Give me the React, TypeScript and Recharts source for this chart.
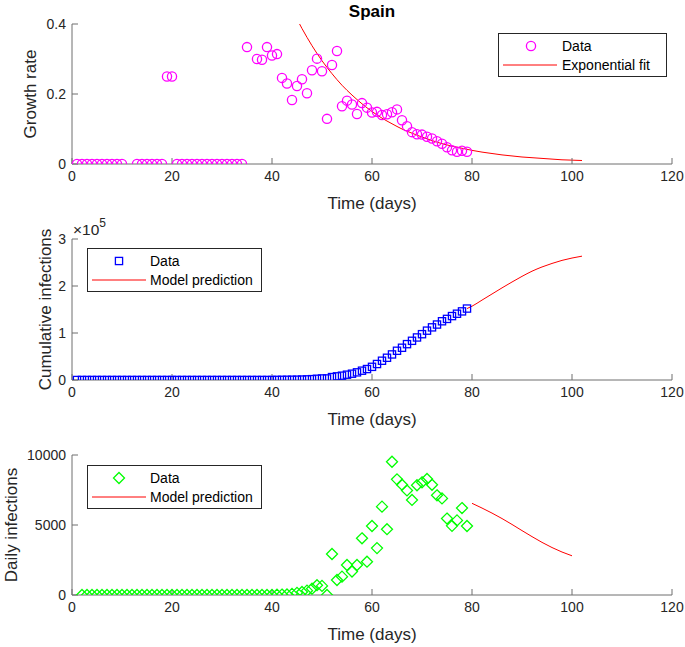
import React from 'react';
import { ComposedChart, Scatter, Line, XAxis, YAxis, Legend } from 'recharts';

const DAY_TICKS = [0, 20, 40, 60, 80, 100, 120];

// Growth rate (days 11, 12 and 36 have no value)
const rateDays = [
  1, 2, 3, 4, 5, 6, 7, 8, 9, 10,
  13, 14, 15, 16, 17, 18, 19, 20, 21, 22, 23, 24, 25, 26, 27, 28, 29, 30, 31, 32, 33, 34, 35,
  37, 38, 39, 40, 41, 42, 43, 44, 45, 46, 47, 48, 49, 50, 51, 52, 53, 54, 55, 56, 57, 58,
  59, 60, 61, 62, 63, 64, 65, 66, 67, 68, 69, 70, 71, 72, 73, 74, 75, 76, 77, 78, 79,
];
const rateValues = [
  0, 0, 0, 0, 0, 0, 0, 0, 0, 0,
  0, 0, 0, 0, 0, 0, 0.25, 0.25, 0, 0, 0, 0, 0, 0, 0, 0, 0, 0, 0, 0, 0, 0, 0.334,
  0.3, 0.298, 0.334, 0.31, 0.314, 0.246, 0.23, 0.183, 0.223, 0.242, 0.202, 0.268, 0.301, 0.265, 0.129, 0.283, 0.323, 0.165, 0.181, 0.17, 0.143, 0.174,
  0.161, 0.147, 0.149, 0.14, 0.142, 0.148, 0.156, 0.125, 0.108, 0.091, 0.085, 0.084, 0.078, 0.073, 0.065, 0.058, 0.048, 0.039, 0.035, 0.038, 0.035,
];
const rateFitDays = [44, 46, 48, 50, 52, 54, 56, 58, 60, 62, 64, 66, 68, 70, 72, 74, 76, 78, 80, 82, 84, 86, 88, 90, 92, 94, 96, 98, 100, 102];
const rateFitValues = [
  0.442, 0.387, 0.338, 0.295, 0.258, 0.225, 0.197, 0.172, 0.15, 0.131, 0.115, 0.1, 0.088, 0.077, 0.067,
  0.058, 0.051, 0.045, 0.039, 0.034, 0.03, 0.026, 0.023, 0.02, 0.018, 0.016, 0.014, 0.012, 0.011, 0.01,
];

// Cumulative infections
const cumDays = [
  1, 2, 3, 4, 5, 6, 7, 8, 9, 10, 11, 12, 13, 14, 15, 16, 17, 18, 19, 20,
  21, 22, 23, 24, 25, 26, 27, 28, 29, 30, 31, 32, 33, 34, 35, 36, 37, 38, 39, 40,
  41, 42, 43, 44, 45, 46, 47, 48, 49, 50, 51, 52, 53, 54, 55, 56, 57, 58, 59, 60,
  61, 62, 63, 64, 65, 66, 67, 68, 69, 70, 71, 72, 73, 74, 75, 76, 77, 78, 79,
];
const cumValues = [
  0, 0, 0, 0, 0, 0, 0, 0, 0, 0, 0, 0, 0, 0, 0, 0, 0, 0, 0, 0,
  0, 0, 0, 0, 0, 0, 0, 0, 0, 0, 0, 0, 0, 0, 0, 0, 0, 0, 0, 0,
  200, 300, 400, 500, 600, 900, 1300, 1800, 2600, 3300, 3300, 6200, 7800, 9200, 11300, 13400, 16300, 19800, 23300, 28000,
  34000, 41000, 47300, 54400, 62200, 68600, 76300, 83400, 90500, 97500, 105000, 112000, 118000, 125000, 130000, 136000, 141000, 146000, 152000,
];
const cumModelDays = [79, 80, 82, 84, 86, 88, 90, 92, 94, 96, 98, 100, 102];
const cumModelValues = [152000, 157000, 170000, 183000, 196000, 208500, 220500, 231500, 240500, 248000, 254500, 259500, 263500];

// Daily infections
const dailyDays = [
  2, 3, 4, 5, 6, 7, 8, 9, 10, 11, 12, 13, 14, 15, 16, 17, 18, 19, 20,
  21, 22, 23, 24, 25, 26, 27, 28, 29, 30, 31, 32, 33, 34, 35, 36, 37, 38, 39, 40,
  41, 42, 43, 44, 45, 46, 47, 48, 49, 50, 51, 52, 53, 54, 55, 56, 57, 58, 59, 60,
  61, 62, 63, 64, 65, 66, 67, 68, 69, 70, 71, 72, 73, 74, 75, 76, 77, 78, 79,
];
const dailyValues = [
  0, 0, 0, 0, 0, 0, 0, 0, 0, 0, 0, 0, 0, 0, 0, 0, 0, 0, 0,
  0, 0, 0, 0, 0, 0, 0, 0, 0, 0, 0, 0, 0, 0, 0, 0, 0, 0, 0, 0,
  20, 30, 40, 80, 150, 220, 310, 450, 700, 650, 0, 2930, 1070, 1310, 2140, 1680, 2140, 4050, 2380, 4930,
  3350, 6310, 4700, 9520, 8260, 7880, 7470, 6790, 7840, 8050, 8290, 7870, 7120, 6900, 5460, 4940, 5330, 6210, 4930,
];
const dailyModelDays = [80, 82, 84, 86, 88, 90, 92, 94, 96, 98, 100];
const dailyModelValues = [6550, 6210, 5850, 5460, 5040, 4600, 4170, 3760, 3390, 3070, 2800];

const zip = (days: number[], vals: number[]) => days.map((t, i) => ({ t, v: vals[i] }));

const AXIS = '#6e6e6e';
const TEXT = '#262626';
const FONT = '"Liberation Sans", Arial, Helvetica, sans-serif';

const Circle = ({ cx, cy }: any) => (
  <circle cx={cx} cy={cy} r={4.6} fill="none" stroke="#ff00ff" strokeWidth={1.3} />
);
const Square = ({ cx, cy }: any) => (
  <rect x={cx - 3.6} y={cy - 3.6} width={7.2} height={7.2} fill="none" stroke="#0000ff" strokeWidth={1.3} />
);
const Diamond = ({ cx, cy }: any) => (
  <path d={`M${cx},${cy - 5.5}L${cx + 5.5},${cy}L${cx},${cy + 5.5}L${cx - 5.5},${cy}Z`} fill="none" stroke="#00ff00" strokeWidth={1.3} />
);

function LegendBox({ width, markerX, textX, marker, lineLabel }: any) {
  const Mark = marker;
  return (
    <svg width={width} height={44} style={{ display: 'block', fontFamily: FONT }}>
      <rect x={0.5} y={0.5} width={width - 1} height={43} fill="#fff" stroke={TEXT} strokeWidth={1} />
      <Mark cx={markerX} cy={13} />
      <text x={textX} y={18} fontSize={14} fill="#000">Data</text>
      <line x1={5} x2={59} y1={32} y2={32} stroke="#ff0000" strokeWidth={1} />
      <text x={textX} y={37} fontSize={14} fill="#000">{lineLabel}</text>
    </svg>
  );
}

function Panel(props: any) {
  const {
    top, height, marginTop, axisHeight, points, model, yDomain, yTicks, yFmt, marker,
    yLabel, yLabelX, legend, legendPos, title, exponent,
  } = props;
  return (
    <div style={{ position: 'absolute', left: 0, top }}>
      <ComposedChart width={685} height={height} margin={{ top: marginTop, right: 13, bottom: 0, left: 0 }}>
        <XAxis
          dataKey="t" type="number" domain={[0, 120]} ticks={DAY_TICKS} height={axisHeight}
          axisLine={{ stroke: AXIS }} tickLine={{ stroke: AXIS }} tickSize={-6} tickMargin={13}
          tick={{ fill: TEXT, fontSize: 14 }}
          label={{
            content: ({ viewBox }: any) => (
              <text x={viewBox.x + viewBox.width / 2} y={viewBox.y + 45} textAnchor="middle" fontSize={17} fill={TEXT}>
                Time (days)
              </text>
            ),
          }}
        />
        <XAxis
          xAxisId="top" orientation="top" dataKey="t" type="number" domain={[0, 120]} ticks={DAY_TICKS}
          height={0} axisLine={{ stroke: AXIS }} tickLine={{ stroke: AXIS }} tickSize={-6} tick={false}
        />
        <YAxis
          dataKey="v" type="number" domain={yDomain} ticks={yTicks} allowDataOverflow width={72}
          axisLine={{ stroke: AXIS }} tickLine={{ stroke: AXIS }} tickSize={-6} tickMargin={12}
          tick={{ fill: TEXT, fontSize: 14 }} tickFormatter={yFmt}
          label={{
            content: ({ viewBox }: any) => {
              const cy = viewBox.y + viewBox.height / 2;
              return (
                <g>
                  <text x={yLabelX} y={cy} transform={`rotate(-90, ${yLabelX}, ${cy})`} textAnchor="middle" fontSize={17} fill={TEXT}>
                    {yLabel}
                  </text>
                  {title && (
                    <text x={372} y={viewBox.y - 7} textAnchor="middle" fontSize={17} fontWeight="bold" fill="#000">
                      {title}
                    </text>
                  )}
                  {exponent && (
                    <text x={73} y={viewBox.y - 4} fontSize={15.5} fill={TEXT}>
                      ×10<tspan dy={-8} fontSize={12}>{exponent}</tspan>
                    </text>
                  )}
                </g>
              );
            },
          }}
        />
        <YAxis
          yAxisId="right" orientation="right" type="number" domain={yDomain} ticks={yTicks} width={0}
          axisLine={{ stroke: AXIS }} tickLine={{ stroke: AXIS }} tickSize={-6} tick={false}
        />
        <Scatter data={points} dataKey="v" shape={marker} isAnimationActive={false} />
        <Line data={model} dataKey="v" type="monotone" stroke="#ff0000" strokeWidth={1} dot={false} isAnimationActive={false} />
        <Legend
          layout="horizontal" verticalAlign="middle" align="center"
          wrapperStyle={{ left: legendPos.left, top: legendPos.top, width: legend.width, height: 44 }}
          content={() => <LegendBox {...legend} marker={marker} />}
        />
      </ComposedChart>
    </div>
  );
}

export default function App() {
  return (
    <div style={{ position: 'absolute', left: 0, top: 0, width: 685, height: 647, background: '#fff', fontFamily: FONT }}>
      <Panel
        top={0} height={215} marginTop={24} axisHeight={51}
        points={zip(rateDays, rateValues)} model={zip(rateFitDays, rateFitValues)}
        yDomain={[0, 0.4]} yTicks={[0, 0.2, 0.4]} yFmt={(v: number) => String(v)}
        marker={Circle} yLabel="Growth rate" yLabelX={36} title="Spain"
        legend={{ width: 169, markerX: 33, textX: 64, lineLabel: 'Exponential fit' }}
        legendPos={{ left: 498, top: 33 }}
      />
      <Panel
        top={215} height={215} marginTop={24} axisHeight={50}
        points={zip(cumDays, cumValues)} model={zip(cumModelDays, cumModelValues)}
        yDomain={[0, 300000]} yTicks={[0, 100000, 200000, 300000]} yFmt={(v: number) => String(v / 100000)}
        marker={Square} yLabel="Cumulative infections" yLabelX={51} exponent="5"
        legend={{ width: 175, markerX: 32, textX: 63, lineLabel: 'Model prediction' }}
        legendPos={{ left: 87, top: 33 }}
      />
      <Panel
        top={430} height={217} marginTop={25} axisHeight={52}
        points={zip(dailyDays, dailyValues)} model={zip(dailyModelDays, dailyModelValues)}
        yDomain={[0, 10000]} yTicks={[0, 5000, 10000]} yFmt={(v: number) => String(v)}
        marker={Diamond} yLabel="Daily infections" yLabelX={17}
        legend={{ width: 175, markerX: 32, textX: 63, lineLabel: 'Model prediction' }}
        legendPos={{ left: 87, top: 35 }}
      />
    </div>
  );
}
